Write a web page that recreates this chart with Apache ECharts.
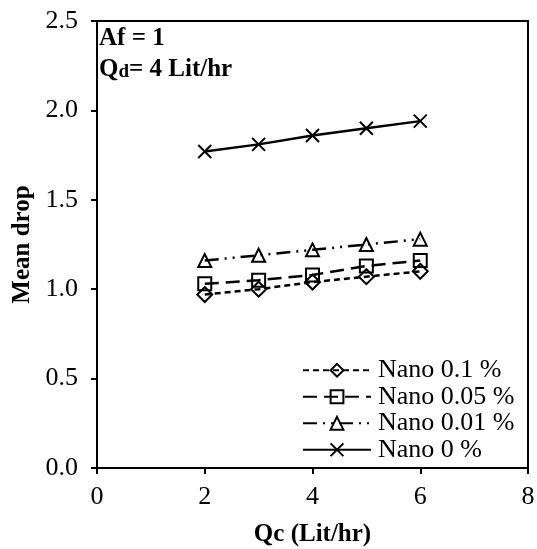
<!DOCTYPE html>
<html>
<head>
<meta charset="utf-8">
<script src="https://cdn.jsdelivr.net/npm/echarts@6/dist/echarts.min.js"></script>
<style>
  html, body { margin: 0; padding: 0; background: #fff; }
  #chart { width: 537px; height: 549px; }
</style>
</head>
<body>
<div id="chart"></div>
<script>
// Continuous-phase flow rate Qc (Lit/hr)
const qc = [2, 3, 4, 5, 6];

// Mean drop size for each nanoparticle concentration
const nano01 = [0.97, 1.00, 1.04, 1.07, 1.10];
const nano005 = [1.03, 1.05, 1.08, 1.13, 1.16];
const nano001 = [1.16, 1.19, 1.22, 1.25, 1.28];
const nano0 = [1.77, 1.81, 1.86, 1.90, 1.94];

const seriesNames = ['Nano 0.1 %', 'Nano 0.05 %', 'Nano 0.01 %', 'Nano 0 %'];

const serif = '"Liberation Serif", "Times New Roman", serif';
const crossPath = 'path://M0,0L10,10M10,0L0,10';

function pairs(ys) { return qc.map((x, i) => [x, ys[i]]); }

function makeSeries(name, ys, symbol, dash, size) {
  return {
    name: name,
    type: 'line',
    data: pairs(ys),
    symbol: symbol,
    symbolSize: size,
    lineStyle: { color: '#000', width: 2.5, type: dash },
    itemStyle: { color: 'transparent', borderColor: '#000', borderWidth: 2 },
    emphasis: { disabled: true },
    animation: false
  };
}

const chart = echarts.init(document.getElementById('chart'));
chart.setOption({
  backgroundColor: '#fff',
  animation: false,
  grid: {
    left: 97, right: 9, top: 21, bottom: 81,
    containLabel: false, outerBoundsMode: 'none',
    show: true, borderColor: '#000', borderWidth: 2, backgroundColor: 'transparent'
  },
  xAxis: {
    type: 'value', min: 0, max: 8, interval: 2,
    name: 'Qc (Lit/hr)', nameLocation: 'middle', nameGap: 54,
    nameTextStyle: { fontFamily: serif, fontWeight: 'bold', fontSize: 25, color: '#000' },
    axisLine: { lineStyle: { color: '#000', width: 2 } },
    axisTick: { show: true, inside: false, length: 6, lineStyle: { color: '#000', width: 2 } },
    axisLabel: { fontFamily: serif, fontSize: 26, color: '#000', margin: 16 },
    splitLine: { show: false }
  },
  yAxis: {
    type: 'value', min: 0, max: 2.5, interval: 0.5,
    name: 'Mean drop', nameLocation: 'middle', nameGap: 62, nameRotate: 90,
    nameTextStyle: { fontFamily: serif, fontWeight: 'bold', fontSize: 25, color: '#000' },
    axisLine: { lineStyle: { color: '#000', width: 2 } },
    axisTick: { show: true, inside: false, length: 6, lineStyle: { color: '#000', width: 2 } },
    axisLabel: { fontFamily: serif, fontSize: 26, color: '#000', margin: 19,
                 formatter: v => v.toFixed(1) },
    splitLine: { show: false }
  },
  legend: {
    data: seriesNames,
    orient: 'vertical',
    left: 302, top: 357,
    padding: 0,
    itemWidth: 68, itemHeight: 16, itemGap: 0,
    textStyle: { fontFamily: serif, fontSize: 26, lineHeight: 26.5, color: '#000', padding: [0, 0, 0, 2] },
    selectedMode: false
  },
  graphic: [
    {
      type: 'text', left: 99, top: 26,
      style: { text: 'Af = 1', font: 'bold 25px "Liberation Serif", serif', fill: '#000' }
    },
    {
      type: 'text', left: 99, top: 57,
      style: {
        text: '{q|Q}{d|d}{q|= 4 Lit/hr}',
        rich: {
          q: { fontFamily: serif, fontWeight: 'bold', fontSize: 25, fill: '#000', color: '#000' },
          d: { fontFamily: serif, fontWeight: 'bold', fontSize: 19, fill: '#000', color: '#000', verticalAlign: 'bottom' }
        }
      }
    }
  ],
  series: [
    makeSeries(seriesNames[0], nano01, 'diamond', [6, 4], 15),
    makeSeries(seriesNames[1], nano005, 'rect', [14, 7], 13),
    makeSeries(seriesNames[2], nano001, 'triangle', [14, 6, 2, 6, 2, 6], 13),
    makeSeries(seriesNames[3], nano0, crossPath, 'solid', 13)
  ]
});
</script>
</body>
</html>
